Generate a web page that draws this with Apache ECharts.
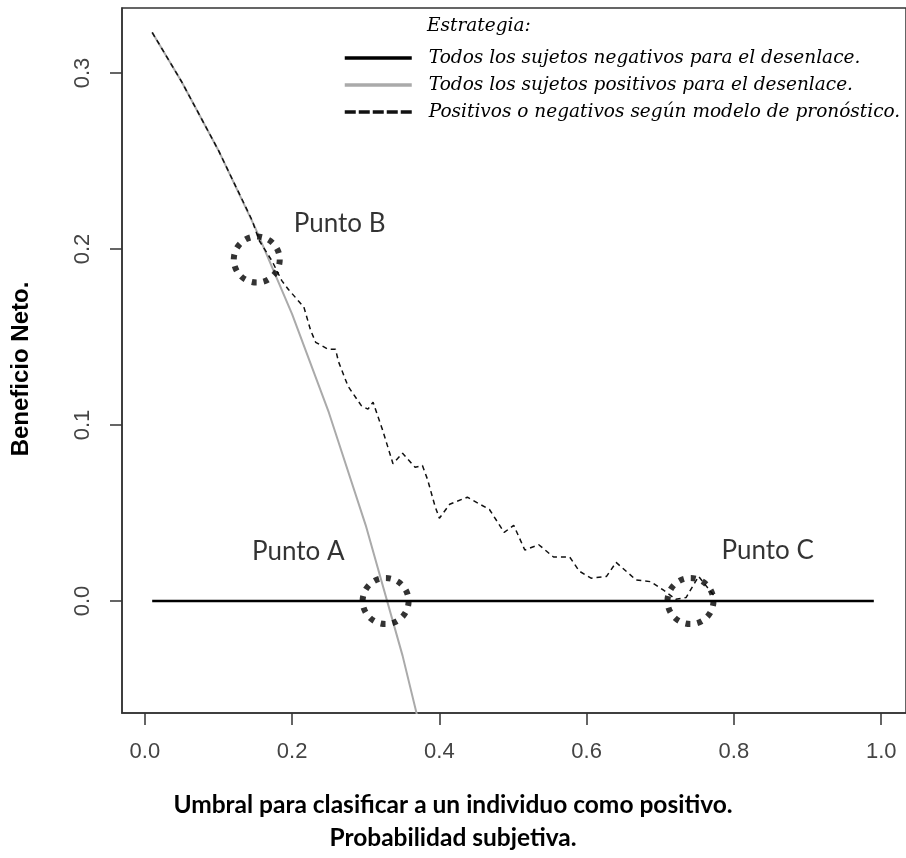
<!DOCTYPE html>
<html>
<head>
<meta charset="utf-8">
<script src="https://cdn.jsdelivr.net/npm/echarts@6/dist/echarts.min.js"></script>
<style>
  html, body { margin: 0; padding: 0; background: #fff; }
  #chart { width: 906px; height: 858px; }
</style>
</head>
<body>
<div id="chart"></div>
<script>
// Axis ticks
const xTicks = [0, 0.2, 0.4, 0.6, 0.8, 1.0];
const yTicks = [0, 0.1, 0.2, 0.3];

// Strategy names (legend)
const seriesNames = [
  'Todos los sujetos negativos para el desenlace.',
  'Todos los sujetos positivos para el desenlace.',
  'Positivos o negativos según modelo de pronóstico.'
];

// Treat none: net benefit is zero everywhere
const treatNoneX = [0.01, 0.99];
const treatNoneY = [0, 0];

// Treat all
const treatAllX = [0.01, 0.05, 0.10, 0.15, 0.20, 0.25, 0.30, 0.35, 0.40];
const treatAllY = [0.323, 0.295, 0.256, 0.212, 0.163, 0.107, 0.043, -0.031, -0.117];

// Prognostic model
const modelX = [0.01, 0.05, 0.10, 0.146, 0.155, 0.173, 0.186, 0.195, 0.216, 0.225,
  0.232, 0.249, 0.259, 0.263, 0.276, 0.294, 0.303, 0.310, 0.323, 0.337,
  0.350, 0.367, 0.377, 0.384, 0.394, 0.400, 0.414, 0.438, 0.468, 0.488,
  0.501, 0.516, 0.535, 0.555, 0.577, 0.590, 0.606, 0.627, 0.640, 0.667,
  0.687, 0.705, 0.721, 0.735, 0.752, 0.775];
const modelY = [0.323, 0.295, 0.256, 0.216, 0.205, 0.193, 0.182, 0.177, 0.167, 0.154,
  0.147, 0.143, 0.143, 0.136, 0.122, 0.111, 0.109, 0.113, 0.097, 0.078,
  0.084, 0.076, 0.077, 0.069, 0.054, 0.047, 0.055, 0.059, 0.052, 0.039,
  0.043, 0.029, 0.032, 0.025, 0.025, 0.017, 0.013, 0.014, 0.022, 0.012,
  0.011, 0.006, 0.001, 0.002, 0.014, 0.002];

// Highlighted points
const pointNames = ['Punto A', 'Punto B', 'Punto C'];
const pointX = [0.327, 0.152, 0.741];
const pointY = [0, 0.194, 0];

const zip = (xs, ys) => xs.map((x, i) => [x, ys[i]]);

const tickFont = "'Liberation Sans', Arial, sans-serif";
const legendFont = "'DejaVu Serif', 'Liberation Serif', serif";

// Label placement around each dotted circle (relative to the symbol box)
const pointLabelPos = [
  { position: [-15, -23], align: 'right' },
  { position: [63, -10], align: 'left' },
  { position: [57, -24], align: 'left' }
];

// Line-only legend icons (no marker dot)
const noDot = { color: 'transparent', borderColor: 'transparent', borderWidth: 0, opacity: 0 };

const chart = echarts.init(document.getElementById('chart'), null, { renderer: 'canvas' });

chart.setOption({
  animation: false,
  backgroundColor: '#fff',
  grid: {
    left: 122, top: 8, width: 790, height: 705,
    show: true, borderColor: '#333', borderWidth: 1.5, backgroundColor: 'transparent'
  },
  xAxis: {
    type: 'value',
    min: -0.031, max: 1.0337,
    splitLine: { show: false },
    axisLine: { show: true, onZero: false, lineStyle: { color: '#333', width: 1.5 } },
    axisTick: { show: true, length: 12, customValues: xTicks, lineStyle: { color: '#333', width: 1.5 } },
    axisLabel: {
      customValues: xTicks, margin: 28,
      formatter: v => v.toFixed(1),
      color: '#444', fontSize: 22, fontFamily: tickFont
    }
  },
  yAxis: {
    type: 'value',
    min: -0.0636, max: 0.3369,
    splitLine: { show: false },
    axisLine: { show: true, onZero: false, lineStyle: { color: '#333', width: 1.5 } },
    axisTick: { show: true, length: 12, customValues: yTicks, lineStyle: { color: '#333', width: 1.5 } },
    axisLabel: {
      customValues: yTicks, margin: 28, rotate: 90,
      formatter: v => v.toFixed(1),
      color: '#444', fontSize: 22, fontFamily: tickFont
    }
  },
  legend: {
    orient: 'vertical', left: 343, top: 47, padding: 0,
    itemWidth: 67, itemHeight: 14, itemGap: 5,
    selectedMode: false,
    data: [
      { name: seriesNames[0], itemStyle: noDot, lineStyle: { width: 3.5 } },
      { name: seriesNames[1], itemStyle: noDot, lineStyle: { width: 3.5 } },
      { name: seriesNames[2], itemStyle: noDot, lineStyle: { width: 3.5, type: [11, 3] } }
    ],
    textStyle: {
      fontFamily: legendFont,
      fontStyle: 'italic', fontSize: 18.5, color: '#000', lineHeight: 22,
      padding: [0, 0, 0, 12]
    }
  },
  graphic: [
    {
      type: 'text', left: 427, top: 17,
      style: {
        text: 'Estrategia:', fill: '#000',
        font: "italic 18.5px 'DejaVu Serif', 'Liberation Serif', serif"
      }
    },
    {
      type: 'text', x: 21, y: 369, rotation: Math.PI / 2,
      style: {
        text: 'Beneficio Neto.', fill: '#000',
        font: "bold 24px 'Liberation Sans', Arial, sans-serif",
        align: 'center', verticalAlign: 'middle'
      }
    },
    {
      type: 'text', x: 453, y: 805,
      style: {
        text: 'Umbral para clasificar a un individuo como positivo.', fill: '#000',
        font: "bold 24.5px Lato, 'Open Sans', sans-serif",
        align: 'center', verticalAlign: 'middle'
      }
    },
    {
      type: 'text', x: 453, y: 838,
      style: {
        text: 'Probabilidad subjetiva.', fill: '#000',
        font: "bold 24.5px Lato, 'Open Sans', sans-serif",
        align: 'center', verticalAlign: 'middle'
      }
    }
  ],
  series: [
    {
      name: seriesNames[0], type: 'line', symbol: 'none', clip: true,
      data: zip(treatNoneX, treatNoneY),
      lineStyle: { color: '#000', width: 2.5 }, itemStyle: { color: '#000' }, z: 3
    },
    {
      name: seriesNames[1], type: 'line', symbol: 'none', clip: true,
      data: zip(treatAllX, treatAllY),
      lineStyle: { color: '#aaa', width: 2 }, itemStyle: { color: '#aaa' }, z: 2
    },
    {
      name: seriesNames[2], type: 'line', symbol: 'none', clip: true,
      data: zip(modelX, modelY),
      lineStyle: { color: '#111', width: 1.5, type: [5, 4] }, itemStyle: { color: '#111' }, z: 4
    },
    {
      name: 'puntos', type: 'scatter', symbol: 'circle', symbolSize: 46, z: 5,
      data: pointNames.map((n, i) => ({
        name: n, value: [pointX[i], pointY[i]],
        label: Object.assign({}, pointLabelPos[i])
      })),
      itemStyle: { color: 'transparent', borderColor: '#000', borderWidth: 6, borderType: [5, 7] },
      label: {
        show: true, formatter: p => p.name, verticalAlign: 'middle',
        color: '#000', fontSize: 26, fontFamily: "Lato, 'Open Sans', sans-serif"
      },
      emphasis: { disabled: true }
    }
  ]
});
</script>
</body>
</html>
